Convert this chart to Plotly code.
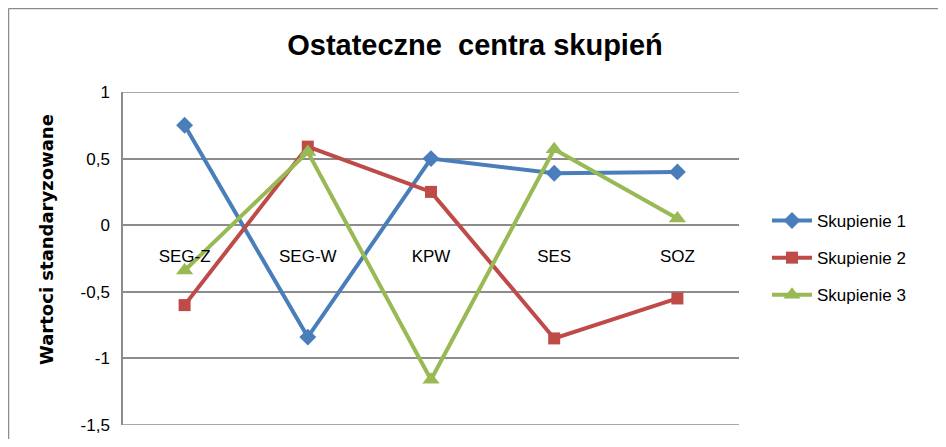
import plotly.graph_objects as go

categories = ["SEG-Z", "SEG-W", "KPW", "SES", "SOZ"]
skupienie_1 = [0.75, -0.84, 0.50, 0.39, 0.40]
skupienie_2 = [-0.60, 0.59, 0.25, -0.85, -0.55]
skupienie_3 = [-0.34, 0.55, -1.16, 0.57, 0.05]
series_names = ["Skupienie 1", "Skupienie 2", "Skupienie 3"]
y_tick_vals = [-1.5, -1, -0.5, 0, 0.5, 1]
y_tick_text = ["-1,5", "-1", "-0,5", "0", "0,5", "1"]

colors = ["#4A7EBB", "#BE4B48", "#98B954"]
symbols = ["diamond", "square", "triangle-up"]
msizes = [13, 12, 15]
FONT = "Liberation Sans, Arial"
GRID = "#8C8C8C"

fig = go.Figure()
for i, (name, vals) in enumerate(zip(series_names, [skupienie_1, skupienie_2, skupienie_3])):
    fig.add_trace(go.Scatter(
        x=categories, y=vals, name=name, mode="lines+markers",
        line=dict(color=colors[i], width=4),
        marker=dict(symbol=symbols[i], size=msizes[i], color=colors[i]),
        legendgroup=f"g{i}",
    ))

OFF = 8  # page body margin
W, H = 946 - 2 * OFF, 447 - 2 * OFF  # avoid scrollbars
# plot area in screen pixels: x 123..739, y 92..425
L = 123 - OFF
R = W - (739 - OFF)
T = 92 - OFF
B = H - (425 - OFF)
pw, ph = W - L - R, H - T - B

def px(sx):
    return (sx - OFF - L) / pw

def py(sy):
    return (H - B - (sy - OFF)) / ph

fig.update_layout(
    width=W, height=H,
    margin=dict(l=L, r=R, t=T, b=B, autoexpand=False),
    paper_bgcolor="white", plot_bgcolor="white",
    title=dict(text="<b>Ostateczne  centra skupień</b>", xref="container", x=(475 - OFF) / W,
               xanchor="center", yref="container", y=1 - (45 - OFF) / H, yanchor="middle",
               font=dict(family=FONT, size=29, color="black")),
    legend=dict(x=px(767), xanchor="left", y=py(203), yanchor="top",
                font=dict(family=FONT, size=17, color="black"),
                tracegroupgap=12, itemwidth=40, bgcolor="rgba(0,0,0,0)"),
    showlegend=True,
    xaxis=dict(type="category", range=[-0.5, 4.5], anchor="free", position=0.6,
               showgrid=False, showline=False, ticks="", ticklabelstandoff=19,
               automargin=False,
               tickfont=dict(family=FONT, size=17, color="black"), zeroline=False),
    yaxis=dict(range=[-1.5, 1], domain=[0, 1], tickvals=y_tick_vals, ticktext=y_tick_text,
               showgrid=True, gridcolor=GRID, gridwidth=1.5, zeroline=False,
               showline=True, linecolor=GRID, linewidth=1.5, ticks="",
               ticklabelstandoff=8, automargin=False,
               tickfont=dict(family=FONT, size=17, color="black")),
    annotations=[dict(text="<b>Wartoci standaryzowane</b>", textangle=-90,
                      xref="paper", yref="paper", x=px(46), y=py(240),
                      xanchor="center", yanchor="middle", showarrow=False,
                      font=dict(family="DejaVu Sans", size=18, color="black"))],
    shapes=[
        dict(type="line", xref="paper", yref="y", x0=0, x1=1, y0=y_tick_vals[-1], y1=y_tick_vals[-1],
             line=dict(color=GRID, width=1.5), layer="below"),
        dict(type="line", xref="paper", yref="y", x0=0, x1=1, y0=y_tick_vals[0], y1=y_tick_vals[0],
             line=dict(color=GRID, width=1.5), layer="below"),
        dict(type="line", xref="paper", yref="paper", x0=px(OFF + 0.5), x1=px(946 - OFF),
             y0=py(OFF + 0.5), y1=py(OFF + 0.5), line=dict(color=GRID, width=1.5)),
        dict(type="line", xref="paper", yref="paper", x0=px(OFF + 0.5), x1=px(OFF + 0.5),
             y0=py(OFF + 0.5), y1=py(447 - OFF), line=dict(color=GRID, width=1.5)),
    ],
)

fig.write_html("out.html")
